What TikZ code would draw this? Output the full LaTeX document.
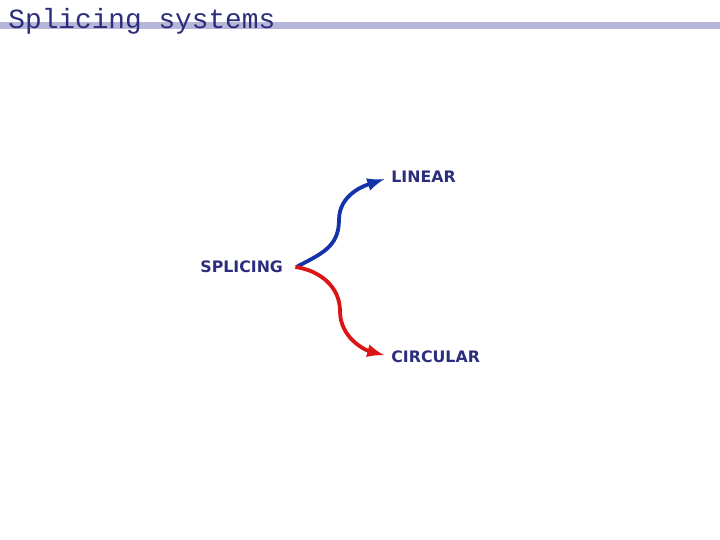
\documentclass[tikz,border=0pt]{standalone}
\usepackage{fontspec}
\setmainfont{DejaVu Sans}
\newfontfamily\titlefont{Liberation Mono}
\usetikzlibrary{arrows}
\definecolor{navy}{RGB}{45,45,125}
\definecolor{barblue}{RGB}{182,182,216}
\definecolor{linblue}{RGB}{20,50,170}
\definecolor{circred}{RGB}{220,20,20}
\tikzset{word/.style={inner sep=0, text=navy, font=\bfseries\fontsize{7.9}{10}\selectfont}}
\tikzset{bend arrow/.style={line width=1.9pt, -latex, shorten >=3.5pt}}

\begin{document}
\begin{tikzpicture}[x=0.5pt, y=0.5pt]
\useasboundingbox (0,0) rectangle (720,-540);
%% title bar
  \fill[barblue] (0,-22) rectangle (720,-29.5);
	\node[anchor=base west, inner sep=0, text=navy, font=\titlefont\fontsize{13.9}{16}\selectfont] (title) at (8,-29) {Splicing systems};
%% words
	\node[word, anchor=west] (splicing) at (200,-267) {SPLICING};
	\node[word, anchor=west] (linear) at (391,-177) {LINEAR};
	\node[word, anchor=west] (circular) at (391,-357) {CIRCULAR};
	\coordinate (upbend) at (339,-220);
	\coordinate (downbend) at (340,-311);
%% arrows
  \draw[bend arrow, linblue] ([xshift=6.5pt]splicing.east) to[out=28, in=-90, looseness=1.1] (upbend) to[out=90, in=198] (linear.west);
  \draw[bend arrow, circred] ([xshift=6pt]splicing.east) to[out=-8, in=90] (downbend) to[out=-90, in=165] (circular.west);
\end{tikzpicture}
\end{document}
